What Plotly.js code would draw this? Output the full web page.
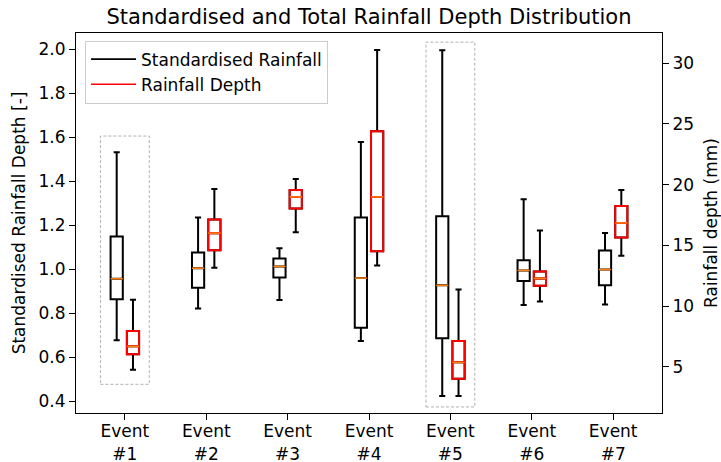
<!DOCTYPE html>
<html>
<head>
<meta charset="utf-8">
<script src="https://cdn.plot.ly/plotly-3.0.1.min.js"></script>
<style>html,body{margin:0;padding:0;background:#fff;}#chart{width:721px;height:462px;}</style>
</head>
<body>
<div id="chart"></div>
<script>
// ---- data ----
const events = [1, 2, 3, 4, 5, 6, 7];
const tickLabels = ['Event<br>#1', 'Event<br>#2', 'Event<br>#3', 'Event<br>#4', 'Event<br>#5', 'Event<br>#6', 'Event<br>#7'];

const stdLower  = [0.676, 0.821, 0.859, 0.673, 0.423, 0.837, 0.839];
const stdQ1     = [0.863, 0.915, 0.962, 0.733, 0.685, 0.946, 0.927];
const stdMedian = [0.956, 1.004, 1.012, 0.959, 0.926, 0.994, 0.998];
const stdQ3     = [1.148, 1.075, 1.048, 1.234, 1.240, 1.040, 1.084];
const stdUpper  = [1.531, 1.234, 1.095, 1.578, 1.995, 1.317, 1.164];

const depthLower  = [4.75, 13.14, 16.08, 13.34, 2.59, 10.38, 14.13];
const depthQ1     = [6.02, 14.60, 18.03, 14.51, 4.01, 11.66, 15.64];
const depthMedian = [6.68, 16.00, 18.98, 18.98, 5.36, 12.27, 16.84];
const depthQ3     = [7.94, 17.12, 19.56, 24.38, 7.11, 12.85, 18.24];
const depthUpper  = [10.51, 19.64, 20.46, 31.07, 11.36, 16.22, 19.56];

const highlightEvents = [1, 5];
const highlightLow  = [0.476, 0.373];
const highlightHigh = [1.605, 2.032];

// ---- layout constants ----
const offset = 0.1;
const boxW = 0.15;
const FONT = 'DejaVu Sans, Liberation Sans, sans-serif';
const FS = 17;

const xStd = events.map(e => e - offset);
const xDep = events.map(e => e + offset);

function medianSegments(xs, meds) {
  const x = [], y = [];
  xs.forEach((p, i) => { x.push(p - boxW / 2, p + boxW / 2, null); y.push(meds[i], meds[i], null); });
  return {x, y};
}
const mStd = medianSegments(xStd, stdMedian);
const mDep = medianSegments(xDep, depthMedian);

const traces = [
  { type: 'box', x: xStd, q1: stdQ1, median: stdMedian, q3: stdQ3,
    lowerfence: stdLower, upperfence: stdUpper, width: boxW, whiskerwidth: 0.5,
    line: {color: '#000', width: 2}, fillcolor: 'rgba(0,0,0,0)', boxpoints: false,
    showlegend: false, hoverinfo: 'skip', yaxis: 'y' },
  { type: 'box', x: xDep, q1: depthQ1, median: depthMedian, q3: depthQ3,
    lowerfence: depthLower, upperfence: depthUpper, width: boxW, whiskerwidth: 0.5,
    line: {color: '#000', width: 2}, fillcolor: 'rgba(0,0,0,0)', boxpoints: false,
    showlegend: false, hoverinfo: 'skip', yaxis: 'y2' },
  { type: 'box', x: xDep, q1: depthQ1, median: depthMedian, q3: depthQ3,
    lowerfence: depthQ1, upperfence: depthQ3, width: boxW, whiskerwidth: 1,
    line: {color: '#ff0000', width: 2}, fillcolor: 'rgba(0,0,0,0)', boxpoints: false,
    showlegend: false, hoverinfo: 'skip', yaxis: 'y2' },
  { type: 'scatter', mode: 'lines', x: mStd.x, y: mStd.y, line: {color: '#ff7f0e', width: 1.6},
    showlegend: false, hoverinfo: 'skip', yaxis: 'y' },
  { type: 'scatter', mode: 'lines', x: mDep.x, y: mDep.y, line: {color: '#ff7f0e', width: 1.6},
    showlegend: false, hoverinfo: 'skip', yaxis: 'y2' },
  { type: 'scatter', mode: 'lines', x: [null], y: [null], name: 'Standardised Rainfall',
    line: {color: '#000', width: 1.6}, yaxis: 'y' },
  { type: 'scatter', mode: 'lines', x: [null], y: [null], name: 'Rainfall Depth',
    line: {color: '#ff0000', width: 1.6}, yaxis: 'y' }
];

const shapes = highlightEvents.map((e, i) => ({
  type: 'rect', xref: 'x', yref: 'y', x0: e - 0.3, x1: e + 0.3,
  y0: highlightLow[i], y1: highlightHigh[i],
  line: {color: '#b0b0b0', width: 1, dash: '3px,2px'}, fillcolor: 'rgba(0,0,0,0)', layer: 'below'
}));

const layout = {
  width: 721, height: 462,
  margin: {l: 76, r: 59, t: 33, b: 49, pad: 0},
  paper_bgcolor: '#fff', plot_bgcolor: '#fff',
  font: {family: FONT, size: FS, color: '#000'},
  title: {text: 'Standardised and Total Rainfall Depth Distribution', font: {family: FONT, size: 21, color: '#000'},
          x: 0.5, xref: 'paper', xanchor: 'center', y: 0.965, yref: 'container', yanchor: 'middle'},
  boxmode: 'overlay',
  showlegend: true,
  legend: {x: 0.0154, y: 0.98, xanchor: 'left', yanchor: 'top', bgcolor: '#fff',
           bordercolor: '#cccccc', borderwidth: 1, font: {family: FONT, size: FS, color: '#000'},
           itemwidth: 45, tracegroupgap: 0},
  xaxis: {range: [0.4, 7.6], tickmode: 'array', tickvals: events, ticktext: tickLabels,
          showgrid: false, zeroline: false, showline: true, linecolor: '#000', linewidth: 1,
          mirror: true, ticks: 'outside', ticklen: 6, tickcolor: '#000', tickwidth: 1,
          ticklabelstandoff: -3,
          tickfont: {family: FONT, size: FS, color: '#000'}},
  yaxis: {range: [0.3455, 2.0736], tickmode: 'array', tickvals: [0.4, 0.6, 0.8, 1.0, 1.2, 1.4, 1.6, 1.8, 2.0],
          ticktext: ['0.4', '0.6', '0.8', '1.0', '1.2', '1.4', '1.6', '1.8', '2.0'],
          showgrid: false, zeroline: false, showline: true, linecolor: '#000', linewidth: 1,
          mirror: true, ticks: 'outside', ticklen: 6, tickcolor: '#000', tickwidth: 1,
          tickfont: {family: FONT, size: FS, color: '#000'},
          title: {text: 'Standardised Rainfall Depth [-]', font: {family: FONT, size: FS, color: '#000'}, standoff: 8}},
  yaxis2: {overlaying: 'y', side: 'right', range: [1.19, 32.48], tickmode: 'array',
           tickvals: [5, 10, 15, 20, 25, 30], showgrid: false, zeroline: false, showline: false,
           ticks: 'outside', ticklen: 6, tickcolor: '#000', tickwidth: 1,
           tickfont: {family: FONT, size: FS, color: '#000'},
           title: {text: 'Rainfall depth (mm)', font: {family: FONT, size: FS, color: '#000'}, standoff: 13}},
  shapes: shapes
};

Plotly.newPlot('chart', traces, layout, {displayModeBar: false, staticPlot: true});
</script>
</body>
</html>
